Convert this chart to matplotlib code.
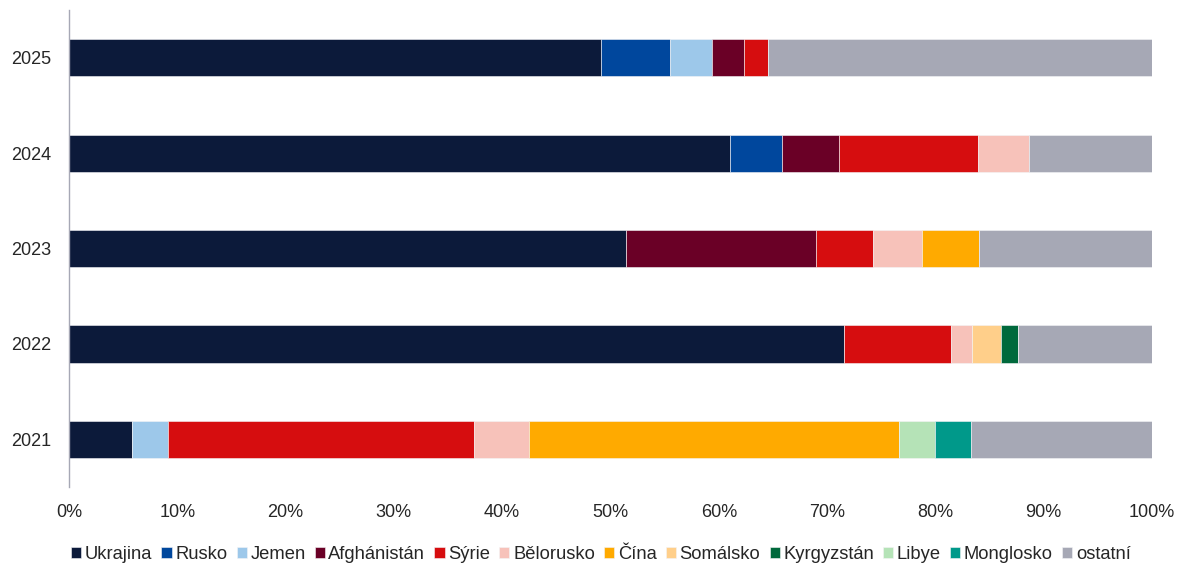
import matplotlib
matplotlib.use("Agg")
import matplotlib.pyplot as plt
import numpy as np

plt.rcParams['font.family'] = ['Liberation Sans', 'DejaVu Sans']

years = ['2021', '2022', '2023', '2024', '2025']
countries = ['Ukrajina', 'Rusko', 'Jemen', 'Afghánistán', 'Sýrie', 'Bělorusko',
             'Čína', 'Somálsko', 'Kyrgyzstán', 'Libye', 'Monglosko', 'ostatní']
colors = ['#0C1A3A', '#00479D', '#9DC8EA', '#6A0026', '#D60D0F', '#F7C2BA',
          '#FFAA00', '#FFCF8A', '#00693C', '#B5E3B7', '#00998A', '#A6A8B5']

# shares in % per year order 2021, 2022, 2023, 2024, 2025
ukrajina    = [5.8, 71.6, 51.4, 61.0, 49.1]
rusko       = [0.0, 0.0, 0.0, 4.8, 6.4]
jemen       = [3.3, 0.0, 0.0, 0.0, 3.9]
afghanistan = [0.0, 0.0, 17.6, 5.3, 2.9]
syrie       = [28.3, 9.8, 5.2, 12.8, 2.2]
belorusko   = [5.1, 2.0, 4.6, 4.7, 0.0]
cina        = [34.1, 0.0, 5.2, 0.0, 0.0]
somalsko    = [0.0, 2.7, 0.0, 0.0, 0.0]
kyrgyzstan  = [0.0, 1.5, 0.0, 0.0, 0.0]
libye       = [3.4, 0.0, 0.0, 0.0, 0.0]
monglosko   = [3.3, 0.0, 0.0, 0.0, 0.0]
ostatni     = [16.7, 12.4, 16.0, 11.4, 35.5]

series = [ukrajina, rusko, jemen, afghanistan, syrie, belorusko, cina,
          somalsko, kyrgyzstan, libye, monglosko, ostatni]

fig = plt.figure(figsize=(11.83, 5.63), dpi=100)
ax = fig.add_axes([0.0583, 0.135, 0.9155, 0.847])

y = np.arange(len(years))
left = np.zeros(len(years))
for name, vals, col in zip(countries, series, colors):
    v = np.array(vals, dtype=float)
    ax.barh(y, v, left=left, height=0.39, color=col, label=name,
            edgecolor='#F4F4F6', linewidth=0.4)
    left += v

ax.set_xlim(0, 100)
ax.set_ylim(-0.5, 4.5)
ax.set_yticks(y)
ax.set_yticklabels(years)
ax.set_xticks(np.arange(0, 101, 10))
ax.set_xticklabels([f'{t}%' for t in range(0, 101, 10)])
ax.tick_params(axis='both', length=0, labelsize=13, colors='#262626')
ax.tick_params(axis='y', pad=13)
ax.tick_params(axis='x', pad=12)
for s in ['top', 'right', 'bottom']:
    ax.spines[s].set_visible(False)
ax.spines['left'].set_color('#A6A8B5')
ax.spines['left'].set_linewidth(1.0)

handles, labels = ax.get_legend_handles_labels()
fig.legend(handles, labels, loc='center', bbox_to_anchor=(0.508, 0.015),
           ncol=12, frameon=False, fontsize=13.2, handlelength=0.55,
           handleheight=0.6, handletextpad=0.2, columnspacing=0.5,
           labelcolor='#262626')

fig.savefig('out.png', dpi=100)
